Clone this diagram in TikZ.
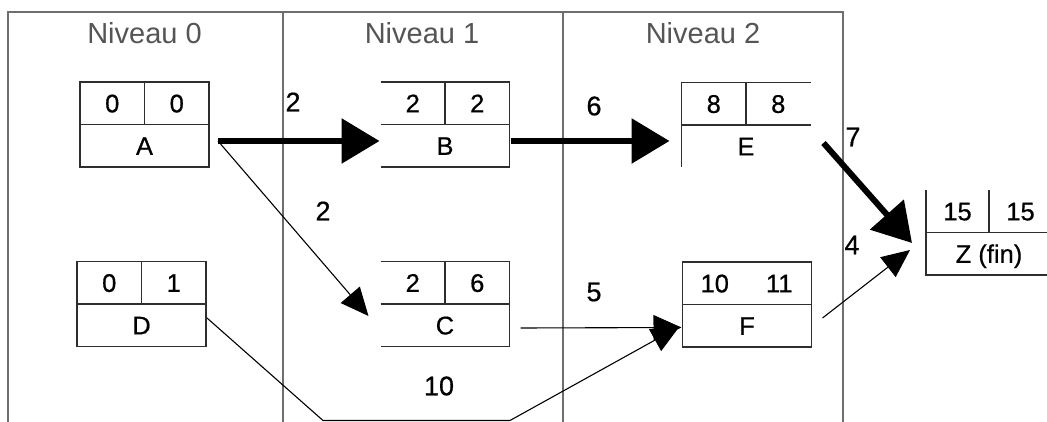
\documentclass[tikz,border=0pt]{standalone}
\usepackage{fontspec}
\setmainfont{Liberation Sans}
\newfontfamily\heavyface[FakeBold=0.6]{Liberation Sans}
\usetikzlibrary{arrows.meta,calc}
\definecolor{framegray}{HTML}{6E6E6E}
\definecolor{boxgray}{HTML}{2E2E2E}
\definecolor{titlegray}{HTML}{555555}

% values of one task box: top-left, top-right, name
\newcommand{\fillbox}[4]{%
  \node[val] (#1-early) at ($(#1.north west)!0.5!(#1.center)$) {#2};
  \node[val] (#1-late)  at ($(#1.north east)!0.5!(#1.center)$) {#3};
  \node[val] (#1-name)  at ($(#1.south)!0.5!(#1.center)$) {#4};
}

\begin{document}
\begin{tikzpicture}[x=1pt,y=-1pt,
  frameline/.style={draw=framegray,line width=1.8pt},
  boxline/.style={draw=boxgray,line width=1.6pt},
  cell/.style={minimum width=129pt,minimum height=85pt,inner sep=0pt,outer sep=0pt},
  val/.style={font=\heavyface\fontsize{25.5}{30}\selectfont,inner sep=0pt,text height=18.2pt,text depth=0pt},
  title/.style={font=\fontsize{29}{34}\selectfont,text=titlegray,inner sep=0pt},
  dur/.style={font=\heavyface\fontsize{27}{32}\selectfont,inner sep=0pt},
  critical/.style={line width=6pt,-{Triangle[length=38pt,width=44pt]}},
  slack/.style={line width=1.1pt,-{Triangle[length=28pt,width=25pt]}},
]
\useasboundingbox[fill=white] (0,0) rectangle (1047,422);

% level columns
\draw[frameline] (8,430) -- (8,12) -- (843,12) -- (843,430);
\draw[frameline] (283,12) -- (283,430);
\draw[frameline] (563,12) -- (563,430);
\node[title] (lvl0) at (144.5,33) {Niveau 0};
\node[title] (lvl1) at (422,33) {Niveau 1};
\node[title] (lvl2) at (703,33) {Niveau 2};

% task boxes
\node[cell] (A) at (144.5,124.5) {};
\node[cell] (D) at (141.5,304) {};
\node[cell] (B) at (445,124.5) {};
\node[cell] (C) at (445,304) {};
\node[cell] (E) at (746,125) {};
\node[cell] (F) at (747,304.5) {};
\node[cell,minimum width=126pt] (Z) at (989,232.5) {};

\foreach \t in {A,D}{
  \draw[boxline] (\t.north west) rectangle (\t.south east);
  \draw[boxline] (\t.west) -- (\t.east);
  \draw[boxline] (\t.north) -- (\t.center);
}
\foreach \t in {B,C}{
  \draw[boxline] (\t.north west) -- (\t.north east) -- (\t.south east) -- (\t.south west);
  \draw[boxline] (\t.west) -- (\t.east);
  \draw[boxline] (\t.north) -- (\t.center);
}
\draw[boxline] (E.north east) -- (E.north west) -- (E.south west);
\draw[boxline] (E.west) -- (E.east);
\draw[boxline] (E.north) -- (E.center);
\draw[boxline] (F.north west) rectangle (F.south east);
\draw[boxline] (F.west) -- (F.east);
\draw[boxline] (Z.north west) -- (Z.south west) -- (Z.south east);
\draw[boxline] (Z.west) -- (Z.east);
\draw[boxline] (Z.north) -- (Z.center);

\fillbox{A}{0}{0}{A}
\fillbox{D}{0}{1}{D}
\fillbox{B}{2}{2}{B}
\fillbox{C}{2}{6}{C}
\fillbox{E}{8}{8}{E}
\fillbox{F}{10}{11}{F}
\fillbox{Z}{15}{15}{Z (fin)}

% dependencies
\coordinate (a-out) at ($(A.east)+(9,16.5)$);
\coordinate (bendL) at (323,420.5);
\coordinate (bendR) at (510,420.5);
\draw[critical] (a-out) -- ($(B.west)+(-1,16.5)$);
\draw[critical] ($(B.east)+(1,16.5)$) -- ($(E.west)+(-12,16)$);
\draw[critical] ($(E.east)+(13,18)$) -- ($(Z.west)+(-14,10.5)$);
\draw[slack] (a-out) -- ($(C.west)+(-12,12)$);
\draw[slack] ($(C.east)+(11,24)$) -- ($(F.west)+(-1,23)$);
\draw[slack] ($(D.east)+(1,14)$) -- (bendL) -- (bendR) -- ($(F.west)+(-3,22)$);
\draw[slack] ($(F.east)+(11,13.5)$) -- ($(Z.west)+(-16,17.5)$);

% durations
\node[dur] (dAB) at (293,102) {2};
\node[dur] (dBE) at (594,106) {6};
\node[dur] (dEZ) at (853,137) {7};
\node[dur] (dAC) at (323,211) {2};
\node[dur] (dCF) at (594,292) {5};
\node[dur] (dFZ) at (852,245) {4};
\node[dur] (dDF) at (439,386) {10};
\end{tikzpicture}
\end{document}
